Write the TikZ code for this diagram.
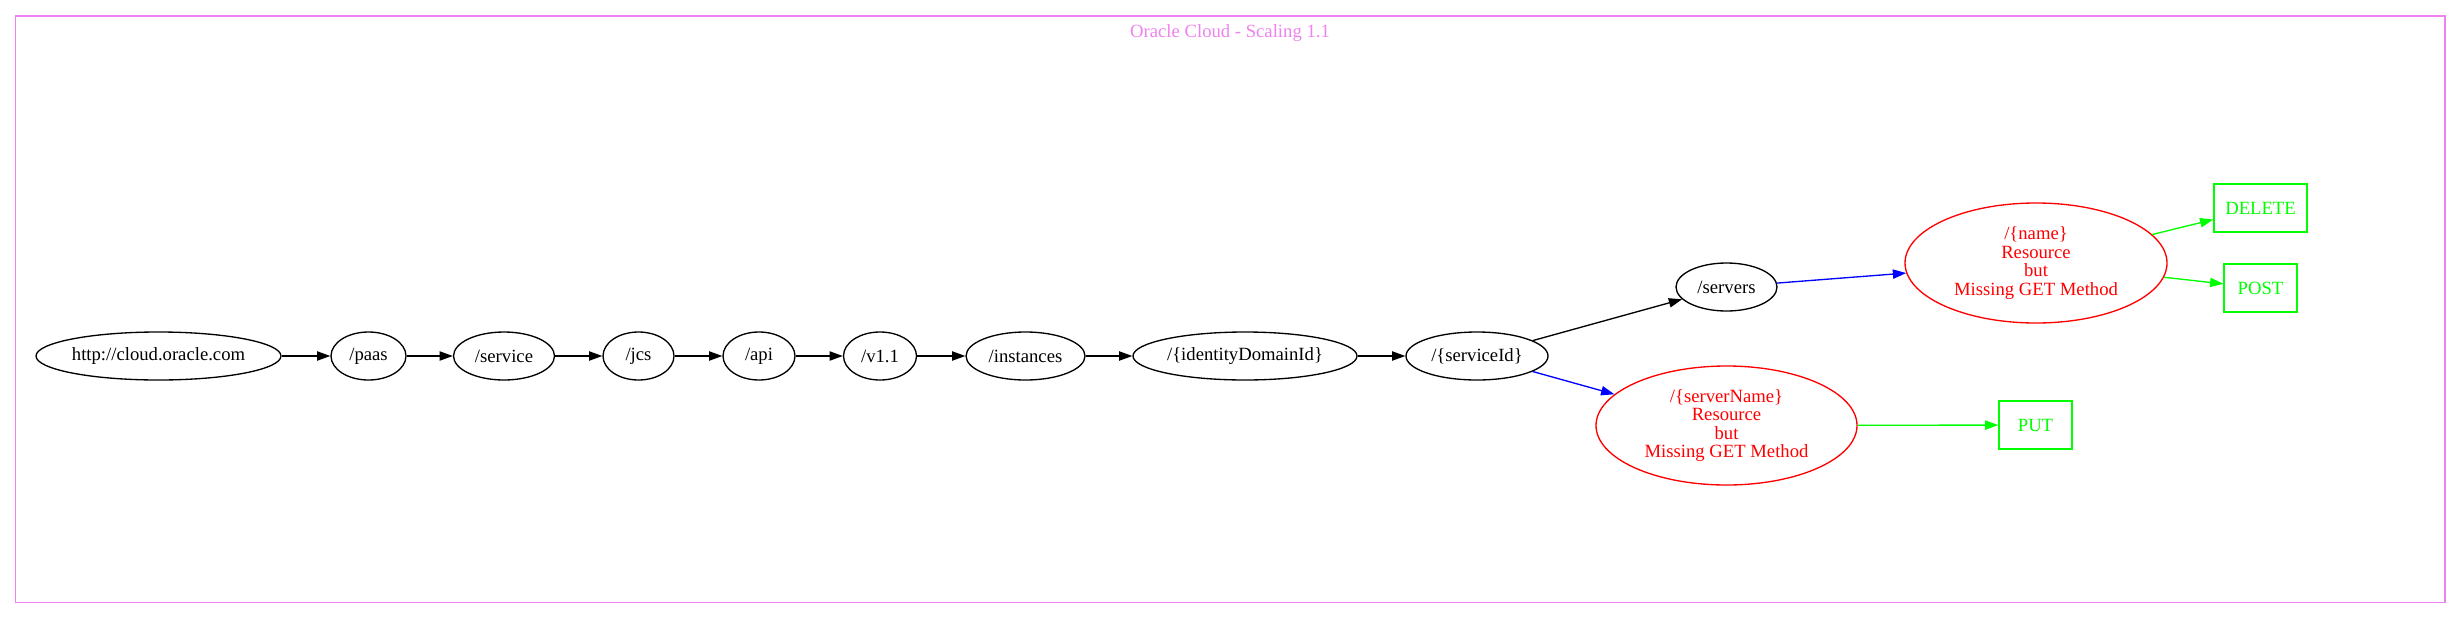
\documentclass[tikz,border=0pt]{standalone}
\usepackage{fontspec}
\setmainfont{Liberation Serif}
\usetikzlibrary{shapes.geometric,arrows.meta}
\definecolor{gvred}{RGB}{255,0,0}
\definecolor{gvgreen}{RGB}{0,255,0}
\definecolor{gvblue}{RGB}{0,0,255}
\definecolor{gvviolet}{RGB}{238,130,238}
\begin{document}
\begin{tikzpicture}[x=1pt,y=-1pt,
  every node/.style={font=\fontsize{18.67}{18.6}\selectfont},
  ell/.style={ellipse, draw, line width=1.33pt, inner sep=0pt, minimum height=48pt},
  res/.style={ellipse, draw=gvred, text=gvred, line width=1.33pt, inner sep=0pt, align=center, minimum width=262pt, minimum height=120pt},
  meth/.style={rectangle, draw=gvgreen, text=gvgreen, line width=1.33pt, inner sep=0pt, minimum height=48pt},
  arr/.style={-{Triangle[length=13.3pt,width=9.3pt]}, line width=1.33pt}
]
\useasboundingbox (0,0) rectangle (2461,619);
\draw[gvviolet, line width=1.33pt] (15.5,16) rectangle (2445,602.5);
\node[text=gvviolet, anchor=base] (title) at (1230,37) {Oracle Cloud - Scaling 1.1};

\node[ell, minimum width=245pt] (url) at (158.5,356) {http://cloud.oracle.com};
\node[ell, minimum width=75pt] (paas) at (368.5,356) {/paas};
\node[ell, minimum width=101pt] (service) at (504,356) {/service};
\node[ell, minimum width=71pt] (jcs) at (638.5,356) {/jcs};
\node[ell, minimum width=72pt] (api) at (759,356) {/api};
\node[ell, minimum width=73pt] (v11) at (880,356) {/v1.1};
\node[ell, minimum width=119pt] (inst) at (1025.5,356) {/instances};
\node[ell, minimum width=224pt] (idd) at (1245,356) {/\{identityDomainId\}};
\node[ell, minimum width=142pt] (sid) at (1477,356) {/\{serviceId\}};
\node[ell, minimum width=101pt] (srv) at (1726.5,287) {/servers};
\node[res, minimum width=261pt, minimum height=119pt] (sn) at (1726.5,425.5) {/\{serverName\}\\Resource\\but\\Missing GET Method};
\node[res] (nm) at (2036,263) {/\{name\}\\Resource\\but\\Missing GET Method};
\node[meth, minimum width=93pt] (del) at (2260.5,208) {DELETE};
\node[meth, minimum width=73pt] (post) at (2260.5,288) {POST};
\node[meth, minimum width=73pt] (put) at (2035.5,425) {PUT};

\draw[arr] (url) -- (paas);
\draw[arr] (paas) -- (service);
\draw[arr] (service) -- (jcs);
\draw[arr] (jcs) -- (api);
\draw[arr] (api) -- (v11);
\draw[arr] (v11) -- (inst);
\draw[arr] (inst) -- (idd);
\draw[arr] (idd) -- (sid);
\draw[arr] (sid) -- (srv);
\draw[arr, gvblue] (sid) -- (sn);
\draw[arr, gvblue] (srv) -- (nm);
\draw[arr, gvgreen] (nm) -- (del);
\draw[arr, gvgreen] (nm) -- (post);
\draw[arr, gvgreen] (sn) -- (put);
\end{tikzpicture}
\end{document}
